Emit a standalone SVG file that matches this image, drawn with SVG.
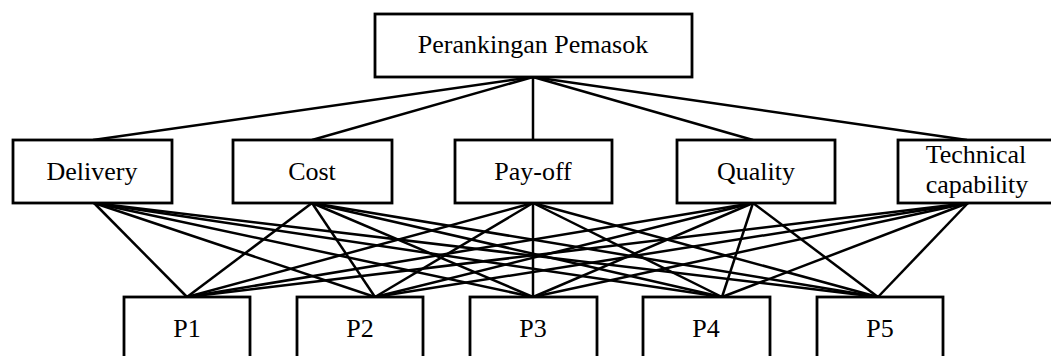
<svg xmlns="http://www.w3.org/2000/svg" width="1051" height="356" viewBox="0 0 1051 356">
<style>
.box{fill:#fff;stroke:#000;stroke-width:2.8}
.lbl{font-family:"Liberation Serif","Times New Roman",serif;font-size:26px;fill:#000;text-anchor:middle}
.conn line{stroke:#000;stroke-width:2.5}
</style>
<rect width="1051" height="356" fill="#fff"/>
<g id="connectors" class="conn">
<line x1="533" y1="77" x2="93" y2="140"/>
<line x1="533" y1="77" x2="312" y2="140"/>
<line x1="533" y1="77" x2="533" y2="140"/>
<line x1="533" y1="77" x2="753" y2="140"/>
<line x1="533" y1="77" x2="967" y2="140"/>
<line x1="94" y1="203" x2="187" y2="297"/>
<line x1="94" y1="203" x2="375" y2="297"/>
<line x1="94" y1="203" x2="533" y2="297"/>
<line x1="94" y1="203" x2="722" y2="297"/>
<line x1="94" y1="203" x2="878" y2="297"/>
<line x1="312" y1="203" x2="187" y2="297"/>
<line x1="312" y1="203" x2="375" y2="297"/>
<line x1="312" y1="203" x2="533" y2="297"/>
<line x1="312" y1="203" x2="722" y2="297"/>
<line x1="312" y1="203" x2="878" y2="297"/>
<line x1="533" y1="203" x2="187" y2="297"/>
<line x1="533" y1="203" x2="375" y2="297"/>
<line x1="533" y1="203" x2="533" y2="297"/>
<line x1="533" y1="203" x2="722" y2="297"/>
<line x1="533" y1="203" x2="878" y2="297"/>
<line x1="753" y1="203" x2="187" y2="297"/>
<line x1="753" y1="203" x2="375" y2="297"/>
<line x1="753" y1="203" x2="533" y2="297"/>
<line x1="753" y1="203" x2="722" y2="297"/>
<line x1="753" y1="203" x2="878" y2="297"/>
<line x1="968" y1="203" x2="187" y2="297"/>
<line x1="968" y1="203" x2="375" y2="297"/>
<line x1="968" y1="203" x2="533" y2="297"/>
<line x1="968" y1="203" x2="722" y2="297"/>
<line x1="968" y1="203" x2="878" y2="297"/>
</g>
<g id="goal"><rect class="box" x="375" y="14" width="317" height="63"/><text class="lbl" x="533" y="53">Perankingan Pemasok</text></g>
<g id="delivery"><rect class="box" x="13" y="140" width="159" height="63"/><text class="lbl" x="92" y="180">Delivery</text></g>
<g id="cost"><rect class="box" x="233" y="140" width="159" height="63"/><text class="lbl" x="312" y="180">Cost</text></g>
<g id="payoff"><rect class="box" x="455" y="140" width="157" height="63"/><text class="lbl" x="533" y="180">Pay-off</text></g>
<g id="quality"><rect class="box" x="677" y="140" width="158" height="63"/><text class="lbl" x="756" y="180">Quality</text></g>
<g id="technical"><rect class="box" x="898" y="140" width="160" height="63"/><text class="lbl" x="976" y="163">Technical</text><text class="lbl" x="977" y="193">capability</text></g>
<g id="p1"><rect class="box" x="124" y="297" width="126" height="80"/><text class="lbl" x="187" y="337">P1</text></g>
<g id="p2"><rect class="box" x="297" y="297" width="126" height="80"/><text class="lbl" x="360" y="337">P2</text></g>
<g id="p3"><rect class="box" x="470" y="297" width="127" height="80"/><text class="lbl" x="533" y="337">P3</text></g>
<g id="p4"><rect class="box" x="643" y="297" width="127" height="80"/><text class="lbl" x="706" y="337">P4</text></g>
<g id="p5"><rect class="box" x="817" y="297" width="126" height="80"/><text class="lbl" x="880" y="337">P5</text></g>
</svg>
